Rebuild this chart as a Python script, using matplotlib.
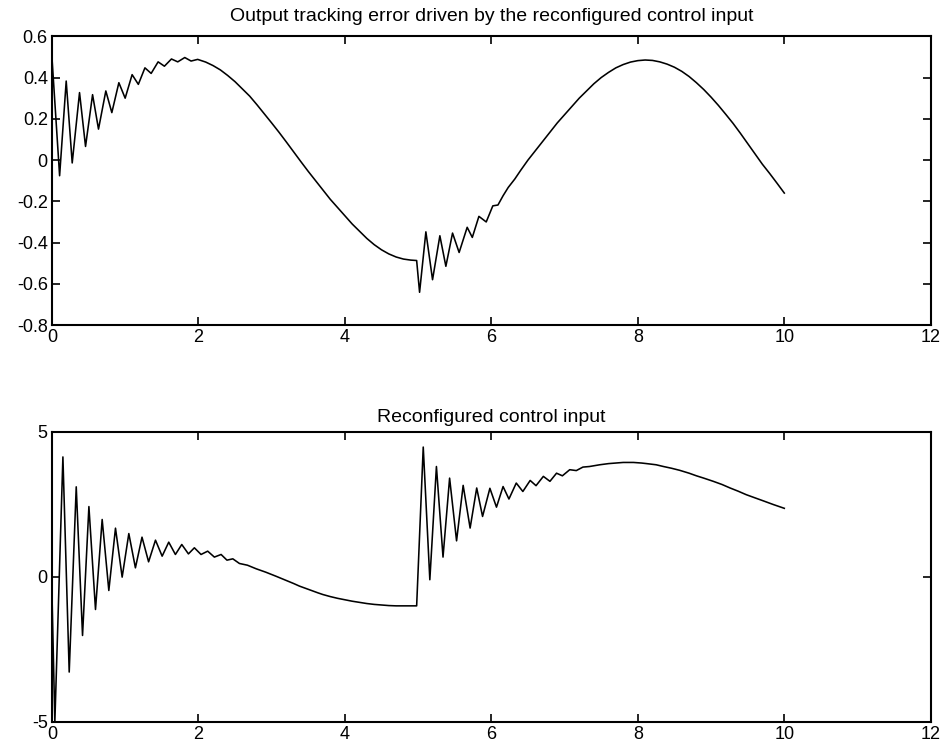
import matplotlib
matplotlib.use("Agg")
import matplotlib.pyplot as plt

plt.rcParams['font.family'] = ['Liberation Sans', 'DejaVu Sans']
plt.rcParams['axes.unicode_minus'] = False

# --- output tracking error ---
err_t = [0.0, 0.105, 0.195, 0.277, 0.377, 0.459, 0.555, 0.636, 0.736, 0.818,
         0.914, 1.0, 1.095, 1.18, 1.27, 1.355, 1.45, 1.536, 1.632, 1.718,
         1.814, 1.9, 1.99, 2.1, 2.2, 2.3, 2.4, 2.5, 2.6, 2.7,
         2.8, 2.9, 3.0, 3.1, 3.2, 3.3, 3.4, 3.5, 3.6, 3.7,
         3.8, 3.9, 4.0, 4.1, 4.2, 4.3, 4.4, 4.5, 4.6, 4.7,
         4.8, 4.9, 4.98,
         5.02, 5.106, 5.197, 5.297, 5.379, 5.47, 5.56, 5.67, 5.74, 5.83,
         5.93, 6.02, 6.09, 6.16, 6.23, 6.32, 6.4, 6.5, 6.6, 6.7,
         6.8, 6.9, 7.0, 7.1, 7.2, 7.3, 7.4, 7.5, 7.6, 7.7,
         7.8, 7.9, 8.0, 8.1, 8.2, 8.3, 8.4, 8.5, 8.6, 8.7,
         8.8, 8.9, 9.0, 9.1, 9.2, 9.3, 9.4, 9.5, 9.6, 9.7,
         9.8, 9.9, 10.0]
err_y = [0.50, -0.076, 0.383, -0.014, 0.327, 0.066, 0.317, 0.15, 0.335, 0.23,
         0.375, 0.30, 0.414, 0.367, 0.447, 0.42, 0.476, 0.455, 0.49, 0.476,
         0.497, 0.48, 0.488, 0.475, 0.458, 0.437, 0.41, 0.38, 0.345, 0.31,
         0.268, 0.224, 0.18, 0.135, 0.088, 0.04, -0.008, -0.055, -0.10, -0.145,
         -0.19, -0.23, -0.27, -0.31, -0.345, -0.38, -0.41, -0.435, -0.455, -0.47,
         -0.48, -0.485, -0.487,
         -0.641, -0.348, -0.58, -0.367, -0.515, -0.354, -0.448, -0.326, -0.375, -0.273,
         -0.30, -0.222, -0.218, -0.173, -0.133, -0.092, -0.05, 0.0, 0.045, 0.09,
         0.135, 0.18, 0.22, 0.26, 0.30, 0.335, 0.37, 0.40, 0.425, 0.447,
         0.463, 0.475, 0.482, 0.485, 0.483, 0.476, 0.465, 0.45, 0.43, 0.405,
         0.375, 0.342, 0.305, 0.265, 0.222, 0.178, 0.13, 0.08, 0.03, -0.02,
         -0.065, -0.112, -0.16]

# --- reconfigured control input ---
u_t = [0.0, 0.04, 0.15, 0.236, 0.332, 0.418, 0.505, 0.595, 0.686, 0.777,
       0.868, 0.959, 1.05, 1.14, 1.23, 1.32, 1.414, 1.505, 1.595, 1.686,
       1.773, 1.864, 1.945, 2.036, 2.127, 2.218, 2.31, 2.39, 2.47, 2.56,
       2.67, 2.79, 2.92, 3.06, 3.2, 3.3, 3.38, 3.5, 3.63, 3.7,
       3.8, 3.9, 4.0, 4.1, 4.2, 4.3, 4.4, 4.5, 4.6, 4.7,
       4.8, 4.98,
       5.07, 5.16, 5.25, 5.34, 5.43, 5.525, 5.615, 5.71, 5.80, 5.88,
       5.98, 6.07, 6.16, 6.24, 6.34, 6.43, 6.53, 6.61, 6.71, 6.80,
       6.89, 6.97, 7.07, 7.16, 7.25, 7.34, 7.48, 7.6, 7.7, 7.8,
       7.94, 8.05, 8.12, 8.25, 8.35, 8.46, 8.57, 8.7, 8.80, 8.9,
       9.03, 9.15, 9.26, 9.37, 9.48, 9.6, 9.71, 9.85, 10.0]
u_y = [-0.5, -5.0, 4.13, -3.28, 3.10, -2.02, 2.42, -1.125, 1.975, -0.47,
       1.676, -0.01, 1.49, 0.31, 1.366, 0.517, 1.263, 0.712, 1.194, 0.77,
       1.114, 0.79, 1.0, 0.77, 0.884, 0.68, 0.77, 0.574, 0.62, 0.46,
       0.40, 0.276, 0.16, 0.02, -0.126, -0.23, -0.32, -0.43, -0.55, -0.61,
       -0.68, -0.74, -0.79, -0.84, -0.88, -0.92, -0.95, -0.97, -0.99, -1.0,
       -1.0, -1.0,
       4.47, -0.1, 3.80, 0.68, 3.40, 1.24, 3.15, 1.68, 3.06, 2.08,
       3.05, 2.40, 3.11, 2.68, 3.23, 2.94, 3.32, 3.14, 3.46, 3.29,
       3.57, 3.48, 3.69, 3.66, 3.78, 3.80, 3.86, 3.90, 3.92, 3.94,
       3.94, 3.92, 3.90, 3.86, 3.80, 3.74, 3.67, 3.57, 3.48, 3.40,
       3.29, 3.18, 3.06, 2.95, 2.83, 2.72, 2.62, 2.49, 2.36]

err_ticks = [-0.8, -0.6, -0.4, -0.2, 0, 0.2, 0.4, 0.6]
err_labels = ['-0.8', '-0.6', '-0.4', '-0.2', '0', '0.2', '0.4', '0.6']
u_ticks = [-5, 0, 5]
x_ticks = [0, 2, 4, 6, 8, 10, 12]

fig = plt.figure(figsize=(9.44, 7.56), dpi=100)
ax1 = fig.add_axes([0.055, 0.570, 0.931, 0.382])
ax2 = fig.add_axes([0.055, 0.045, 0.931, 0.384])

ax1.plot(err_t, err_y, color='black', lw=1.15, solid_joinstyle='round')
ax1.set_xlim(0, 12)
ax1.set_ylim(-0.8, 0.6)
ax1.set_yticks(err_ticks)
ax1.set_yticklabels(err_labels)
ax1.set_title("Output tracking error driven by the reconfigured control input",
              fontsize=14, pad=11)

ax2.plot(u_t, u_y, color='black', lw=1.15, solid_joinstyle='round')
ax2.set_xlim(0, 12)
ax2.set_ylim(-5, 5)
ax2.set_yticks(u_ticks)
ax2.set_title("Reconfigured control input", fontsize=14, pad=7)

for ax in (ax1, ax2):
    ax.set_xticks(x_ticks)
    ax.tick_params(direction='in', top=True, right=True, length=6, width=1.2,
                   labelsize=13, pad=3)
    for s in ax.spines.values():
        s.set_linewidth(1.5)

fig.savefig("out.png", dpi=100)
